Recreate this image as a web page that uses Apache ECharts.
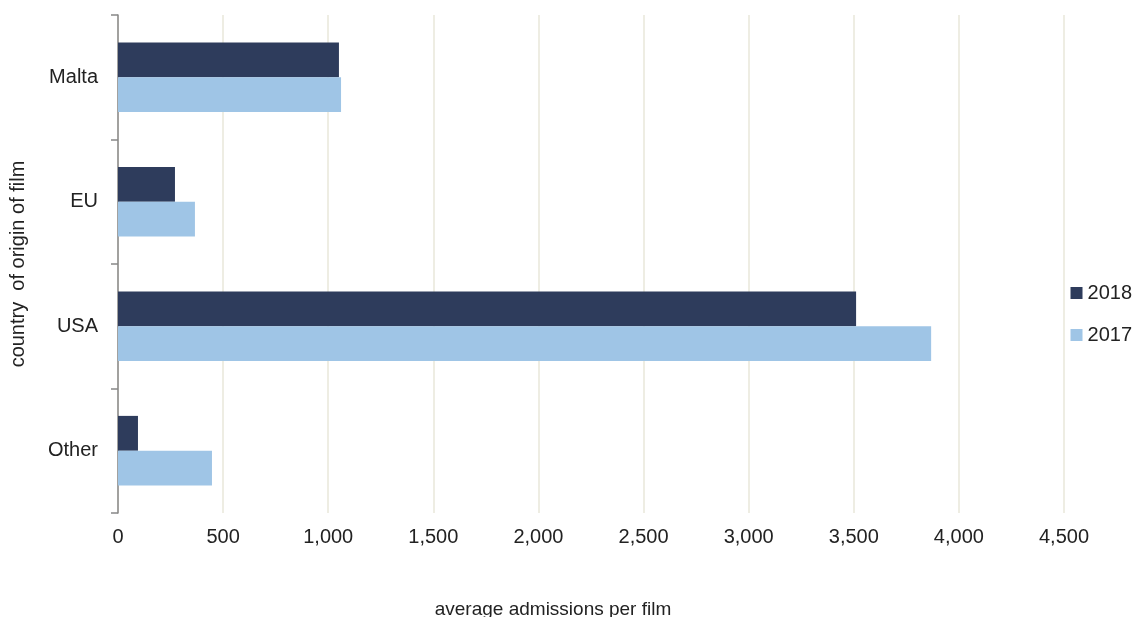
<!DOCTYPE html><html><head><meta charset="utf-8"><script src="https://cdn.jsdelivr.net/npm/echarts@6/dist/echarts.min.js"></script></head><body style="margin:0"><div id="c" style="width:1141px;height:617px"></div><script>
const categories=['Other','USA','EU','Malta'];
const s2018=[95,3511,271,1051];
const s2017=[447,3868,366,1061];
const ch=echarts.init(document.getElementById('c'));
const f='Liberation Sans, Arial, sans-serif';
ch.setOption({animation:false,
grid:{left:118,right:77,top:15,bottom:104},
title:{text:'average admissions per film',left:548,top:595,textAlign:'center',textStyle:{fontFamily:f,fontSize:19,fontWeight:'normal',color:'#222'}},
legend:{orient:'vertical',right:4,top:278,itemWidth:12,itemHeight:12,itemGap:22,data:['2018','2017'],textStyle:{fontFamily:f,fontSize:20,color:'#222'},icon:'rect'},
xAxis:{type:'value',min:0,max:4500,interval:500,
axisLabel:{fontFamily:f,fontSize:20,color:'#222',margin:14,formatter:v=>v.toLocaleString('en-US')},splitLine:{show:true,lineStyle:{color:'#e9e7da',width:1.5}},axisLine:{show:false},axisTick:{show:false}},
yAxis:{type:'category',data:categories,name:'country  of origin of film',nameLocation:'middle',nameGap:90,nameTextStyle:{fontFamily:f,fontSize:20,color:'#222'},
axisLabel:{fontFamily:f,fontSize:20,color:'#222',margin:20},axisLine:{lineStyle:{color:'#888',width:1.5}},axisTick:{show:true,length:7,lineStyle:{color:'#888',width:1.5}}},
series:[
{name:'2018',type:'bar',data:s2018,barWidth:'28%',barGap:'0%',itemStyle:{color:'#2e3c5c'}},
{name:'2017',type:'bar',data:s2017,barWidth:'28%',barGap:'0%',itemStyle:{color:'#9fc5e6'}}
]});
</script></body></html>
